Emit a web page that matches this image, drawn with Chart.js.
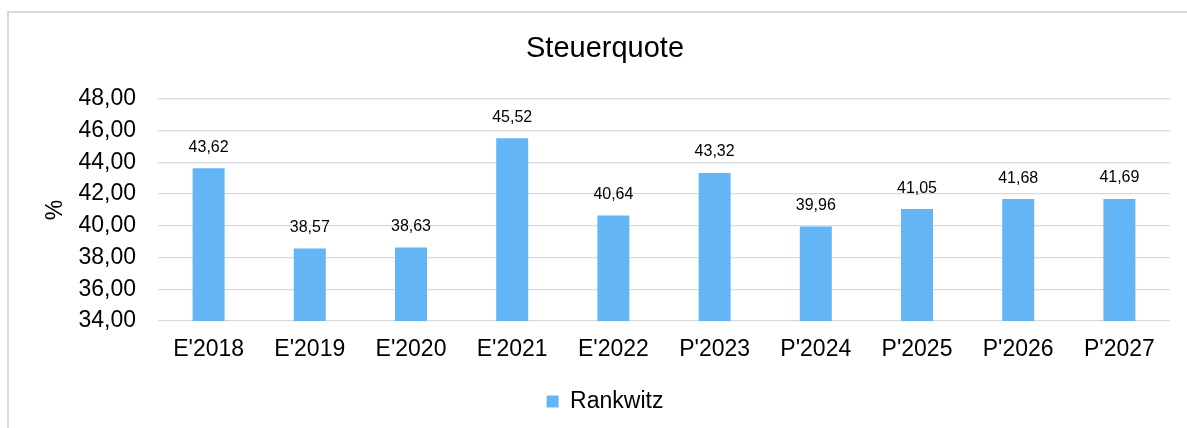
<!DOCTYPE html>
<html>
<head>
<meta charset="utf-8">
<script src="https://cdn.jsdelivr.net/npm/chart.js@4/dist/chart.umd.min.js"></script>
<style>
    html, body { margin: 0; padding: 0; background: #fff; overflow: hidden; }
    #frame {
        position: absolute; left: 7px; top: 11px; width: 1300px; height: 600px;
        border-left: 2px solid #d9d9d9; border-top: 2px solid #d9d9d9;
    }
    #wrap { position: absolute; left: 8px; top: 0; width: 1194px; height: 428px; }
</style>
</head>
<body>
<div id="frame"></div>
<div id="wrap"><canvas id="chart"></canvas></div>
<script>
const categories = ["E'2018", "E'2019", "E'2020", "E'2021", "E'2022", "P'2023", "P'2024", "P'2025", "P'2026", "P'2027"];
const rankwitz = [43.62, 38.57, 38.63, 45.52, 40.64, 43.32, 39.96, 41.05, 41.68, 41.69];
const yTicks = [34, 36, 38, 40, 42, 44, 46, 48];

const FONT = "'Liberation Sans', Arial, Helvetica, sans-serif";
const fmt = v => v.toFixed(2).replace('.', ',');

// value labels above the bars
const barLabels = {
    id: 'barLabels',
    afterDatasetsDraw(chart) {
        const ctx = chart.ctx;
        ctx.save();
        ctx.font = '16px ' + FONT;
        ctx.fillStyle = '#000';
        ctx.textAlign = 'center';
        ctx.textBaseline = 'middle';
        chart.getDatasetMeta(0).data.forEach((bar, i) => {
            ctx.fillText(fmt(rankwitz[i]), bar.x, bar.y - 21);
        });
        ctx.restore();
    }
};

const ctx = document.getElementById('chart').getContext('2d');
new Chart(ctx, {
    type: 'bar',
    data: {
        labels: categories,
        datasets: [{
            label: 'Rankwitz',
            data: rankwitz,
            backgroundColor: '#64B5F6',
            borderWidth: 0,
            categoryPercentage: 0.8,
            barPercentage: 0.395
        }]
    },
    options: {
        responsive: true,
        maintainAspectRatio: false,
        animation: false,
        layout: { padding: { left: 32, right: 32, top: 0, bottom: 5 } },
        plugins: {
            title: {
                display: true,
                text: 'Steuerquote',
                color: '#000',
                font: { family: FONT, size: 29, weight: 'normal', lineHeight: 1.2 },
                padding: { top: 32, bottom: 32 }
            },
            legend: {
                position: 'bottom',
                labels: {
                    color: '#000',
                    font: { family: FONT, size: 23 },
                    boxWidth: 12,
                    boxHeight: 12,
                    padding: 10
                }
            },
            tooltip: { enabled: false }
        },
        scales: {
            x: {
                grid: { display: false, drawTicks: false },
                border: { display: false },
                ticks: { color: '#000', font: { family: FONT, size: 23 }, padding: 15 },
                afterFit(scale) { scale.height = 59; }
            },
            y: {
                min: 34,
                max: 48,
                afterBuildTicks(scale) { scale.ticks = yTicks.map(v => ({ value: v })); },
                grid: { color: '#d9d9d9', lineWidth: 1.3, drawTicks: false },
                border: { display: false },
                ticks: {
                    color: '#000',
                    font: { family: FONT, size: 23 },
                    padding: 22,
                    callback: v => fmt(v)
                },
                title: {
                    display: true,
                    text: '%',
                    color: '#000',
                    font: { family: FONT, size: 23, lineHeight: 1.2 },
                    padding: { top: 2, bottom: 0 }
                },
                afterFit(scale) { scale.width = 118; }
            }
        }
    },
    plugins: [barLabels]
});
</script>
</body>
</html>
